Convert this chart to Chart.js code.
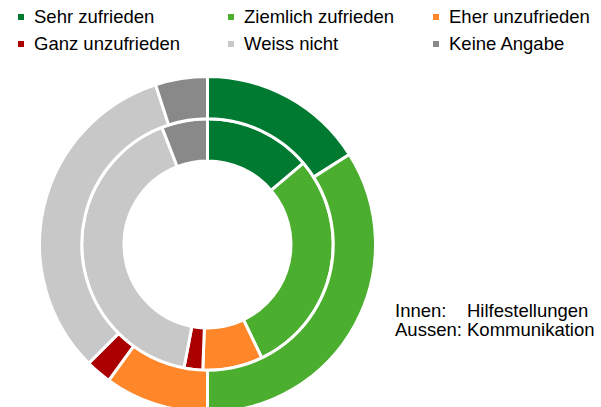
<!DOCTYPE html>
<html>
<head>
<meta charset="utf-8">
<script src="https://cdn.jsdelivr.net/npm/chart.js@4"></script>
<style>
  html, body { margin: 0; padding: 0; width: 601px; height: 407px; overflow: hidden; background: #fff; }
  body { position: relative; font-family: "Liberation Sans", Arial, sans-serif; color: #000; }
  #chart { position: absolute; left: 38px; top: 75px; }
  .leg { position: absolute; font-size: 18.5px; line-height: 20px; white-space: nowrap; }
  .leg i { position: absolute; left: -16px; top: 7px; width: 6px; height: 6px; }
  .note { position: absolute; left: 395px; font-size: 18.5px; line-height: 20px; white-space: nowrap; }
  .note span { display: inline-block; width: 72px; }
</style>
</head>
<body>
<canvas id="chart" width="339" height="339"></canvas>
<div id="legend"></div>
<div class="note" style="top:301px"><span>Innen:</span>Hilfestellungen</div>
<div class="note" style="top:320px"><span>Aussen:</span>Kommunikation</div>
<script>
const categories = ["Sehr zufrieden", "Ziemlich zufrieden", "Eher unzufrieden", "Ganz unzufrieden", "Weiss nicht", "Keine Angabe"];
const colors = ["#007A30", "#4BAE2F", "#FF8629", "#AA0000", "#C8C8C8", "#898989"];
// Outer ring: Kommunikation (%)
const aussenKommunikation = [16, 34, 10, 2.5, 32.5, 5];
// Inner ring: Hilfestellungen (%)
const innenHilfestellungen = [13.8, 29.1, 7.7, 2.4, 41.1, 5.9];

// HTML legend (3 columns x 2 rows)
const legendPos = [[34, 7], [244, 7], [449, 7], [34, 34], [244, 34], [449, 34]];
const legend = document.getElementById('legend');
categories.forEach((c, i) => {
  const d = document.createElement('div');
  d.className = 'leg';
  d.style.left = legendPos[i][0] + 'px';
  d.style.top = legendPos[i][1] + 'px';
  d.innerHTML = '<i style="background:' + colors[i] + '"></i>' + c;
  legend.appendChild(d);
});

new Chart(document.getElementById('chart'), {
  type: 'doughnut',
  data: {
    labels: categories,
    datasets: [
      { label: 'Kommunikation', data: aussenKommunikation, backgroundColor: colors, borderColor: '#fff', borderWidth: 3 },
      { label: 'Hilfestellungen', data: innenHilfestellungen, backgroundColor: colors, borderColor: '#fff', borderWidth: 3 }
    ]
  },
  options: {
    responsive: false,
    animation: false,
    cutout: '49.7%',
    layout: { padding: 0 },
    plugins: { legend: { display: false }, tooltip: { enabled: false } }
  }
});
</script>
</body>
</html>
